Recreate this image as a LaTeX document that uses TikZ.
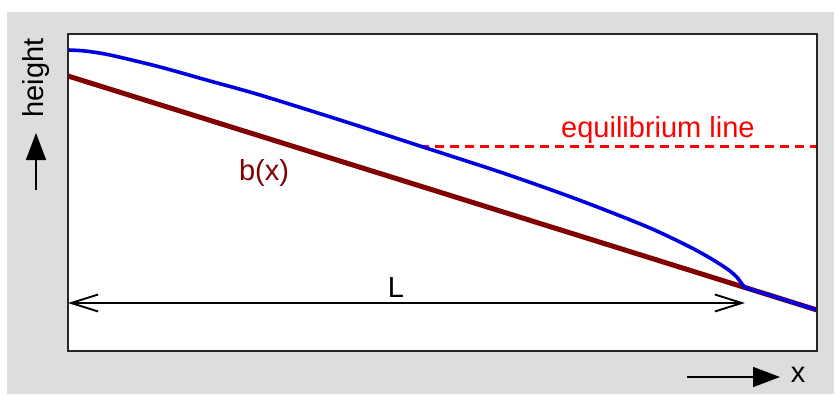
\documentclass[tikz,border=0pt]{standalone}
\usepackage{fontspec}
\setmainfont{Liberation Sans}
\usetikzlibrary{arrows.meta}
\definecolor{bggray}{RGB}{220,221,221}
\definecolor{icecol}{RGB}{0,0,225}
\definecolor{bedcol}{RGB}{128,0,0}
\definecolor{eqcol}{RGB}{255,0,0}
\begin{document}
\begin{tikzpicture}[x=1pt,y=-1pt,
  lbl/.style={font=\fontsize{29}{34}\selectfont, inner sep=0pt},
  axisarrow/.style={line width=1.6pt, -{Triangle[length=27pt,width=20pt]}},
  lenarrow/.style={line width=1.7pt, {Straight Barb[length=27pt,width=17pt,line width=1.9pt]}-{Straight Barb[length=27pt,width=17pt,line width=1.9pt]}},
  bedline/.style={bedcol, line width=5pt},
  iceline/.style={icecol, line width=3.6pt, line join=round},
  eqline/.style={eqcol, line width=3pt, dash pattern=on 9pt off 6pt}]
\useasboundingbox (0,0) rectangle (835,394);
\fill[bggray] (7,12) rectangle (834,394);
\fill[white] (68,34) rectangle (817,351);
% bed and ice
\coordinate (bedtop) at (68,76);
\coordinate (bedend) at (817,310);
\coordinate (snout) at (745,287.5);
\coordinate (eqstart) at (420,146);
\coordinate (eqend) at (817,146);
\draw[bedline] (bedtop) -- (bedend);
\draw[eqline] (eqstart) -- (eqend);
\draw[iceline] plot[smooth, tension=0.5] coordinates {(68,50) (85,51) (110,55) (160,67) (210,81) (260,95) (340,120) (420,146) (500,172) (560,193) (600,208) (650,228) (690,247) (715,261) (730,271) (738,278.5) (742,284) (745,287.5)} -- (bedend);
% frame
\draw[line width=1.6pt, black!85] (68,34) rectangle (817,351);
% length arrow
\coordinate (Lleft) at (68,303);
\coordinate (Lright) at (745,303);
\draw[lenarrow] (Lleft) -- (Lright);
% labels
\node[lbl, anchor=base] (Llbl) at (396,297) {L};
\node[lbl, anchor=base, bedcol] (blbl) at (264,180) {b(x)};
\node[lbl, anchor=base west, eqcol] (eqlbl) at (561,137) {equilibrium line};
% axes
\coordinate (xa) at (687,377);
\coordinate (xb) at (780,377);
\draw[axisarrow] (xa) -- (xb);
\node[lbl, anchor=base] (xlbl) at (798,382) {x};
\coordinate (ya) at (36,190);
\coordinate (yb) at (36,133);
\draw[axisarrow] (ya) -- (yb);
\node[lbl, anchor=base, rotate=90] (hlbl) at (43,78) {height};
\end{tikzpicture}
\end{document}
